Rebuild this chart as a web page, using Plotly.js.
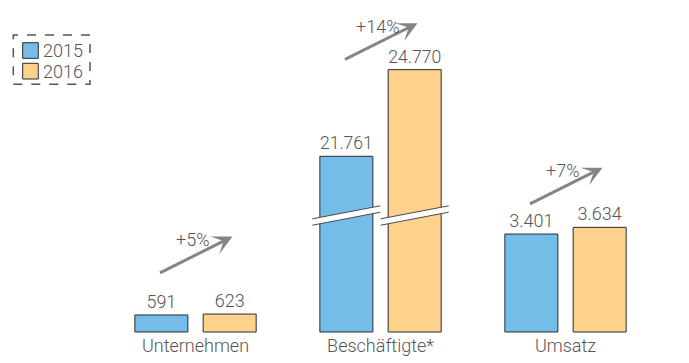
<!DOCTYPE html>
<html>
<head>
<meta charset="utf-8">
<script src="https://cdn.plot.ly/plotly-3.0.1.min.js"></script>
<style>
  html, body { margin: 0; padding: 0; background: #fff; }
  #chart { width: 689px; height: 363px; }
</style>
</head>
<body>
<div id="chart"></div>
<script>
// Kennzahlen 2015 / 2016
const categories = ['Unternehmen', 'Beschäftigte*', 'Umsatz'];
const years = ['2015', '2016'];
const values2015 = [591, 21761, 3401];
const values2016 = [623, 24770, 3634];

// The "Beschäftigte" bars share the same scale but their axis is cut here
const AXIS_BREAK = 15660;
const BROKEN = 1; // index of the category drawn on the broken axis

const COLORS = ['#74bde9', '#fed28d'];
const TEXT = '#555555';
const ARROW = '#858585';
const FONT = 'Roboto, "Liberation Sans", Arial, sans-serif';

// bar geometry in category units
const BAR_W = 0.2865;
const OFFSETS = [-0.3278, 0.0414];

const xs = categories.map((_, i) => i);
const normalIdx = xs.filter(i => i !== BROKEN);
const series = [values2015, values2016];

function barTrace(k, onBroken) {
  const values = series[k];
  const idx = onBroken ? [BROKEN] : normalIdx;
  const vals = idx.map(i => values[i]);
  const t = {
    type: 'bar',
    name: years[k],
    showlegend: false,
    x: idx,
    width: BAR_W,
    offset: OFFSETS[k],
    customdata: vals,
    texttemplate: '%{customdata:,.0f}',
    textposition: 'outside',
    cliponaxis: false,
    textfont: { family: FONT, size: 18, weight: 300, color: TEXT },
    marker: { color: COLORS[k], line: { color: '#2b2b2b', width: 1 } },
    hoverinfo: 'skip'
  };
  if (onBroken) {
    t.yaxis = 'y2';
    t.base = AXIS_BREAK;
    t.y = vals.map(v => v - AXIS_BREAK);
  } else {
    t.y = vals;
  }
  return t;
}

const traces = [
  barTrace(0, false), barTrace(1, false),
  barTrace(0, true), barTrace(1, true)
];

// Growth arrows with rounded percentage change
const arrowTips = [
  { x: 0.2, y: 0.309 },
  { x: 1.2, y: 0.993 },
  { x: 2.2, y: 0.530 }
];
const annotations = [];
categories.forEach((c, i) => {
  const pct = Math.round((values2016[i] / values2015[i] - 1) * 100);
  const tip = arrowTips[i];
  annotations.push({
    x: tip.x, y: tip.y, xref: 'x', yref: 'paper',
    ax: -74, ay: 37, text: '',
    showarrow: true, arrowhead: 3, arrowsize: 1.1, arrowwidth: 3,
    arrowcolor: ARROW, standoff: 0
  });
  annotations.push({
    x: tip.x, y: tip.y, xref: 'x', yref: 'paper',
    xanchor: 'center', yanchor: 'middle',
    xshift: -40, yshift: -3, showarrow: false,
    text: '+' + pct + '%',
    font: { family: FONT, size: 18, weight: 300, color: TEXT }
  });
});

// Axis-break marks across the Beschäftigte bars
const halfW = 0.184;
const breakY = 4045, breakH = 111, breakRise = 226;
const shapes = [];
OFFSETS.forEach(off => {
  const xc = BROKEN + off + BAR_W / 2;
  const xl = xc - halfW, xr = xc + halfW;
  const yl = breakY - breakRise, yr = breakY + breakRise;
  shapes.push({
    type: 'path', xref: 'x', yref: 'y',
    path: `M ${xl},${yl - breakH} L ${xr},${yr - breakH} L ${xr},${yr + breakH} L ${xl},${yl + breakH} Z`,
    fillcolor: '#ffffff', line: { width: 0 }
  });
  [-breakH, breakH].forEach(d => {
    shapes.push({
      type: 'line', xref: 'x', yref: 'y',
      x0: xl, y0: yl + d, x1: xr, y1: yr + d,
      line: { color: '#4a4a4a', width: 1 }
    });
  });
});

// Legend: swatches, year labels and a dashed frame
const legendRows = [
  { y0: 0.8804, y1: 0.9304, ty: 0.9054 },
  { y0: 0.8141, y1: 0.8644, ty: 0.8397 }
];
years.forEach((yr, k) => {
  const row = legendRows[k];
  shapes.push({
    type: 'rect', xref: 'paper', yref: 'paper',
    x0: -0.1447, x1: -0.1166, y0: row.y0, y1: row.y1,
    fillcolor: COLORS[k], line: { color: '#2b2b2b', width: 1 }
  });
  annotations.push({
    x: -0.1125, y: row.ty, xref: 'paper', yref: 'paper',
    xanchor: 'left', yanchor: 'middle', showarrow: false,
    text: yr, font: { family: FONT, size: 18, weight: 300, color: TEXT }
  });
});
shapes.push({
  type: 'rect', xref: 'paper', yref: 'paper',
  x0: -0.1616, x1: -0.0234, y0: 0.7971, y1: 0.9551,
  line: { color: '#555555', width: 1.5, dash: 'dash' }
});

const layout = {
  width: 689,
  height: 363,
  margin: { l: 103, r: 31, t: 21, b: 30 },
  paper_bgcolor: '#ffffff',
  plot_bgcolor: '#ffffff',
  separators: ',.',
  barmode: 'group',
  showlegend: false,
  xaxis: {
    range: [-0.5, 2.5],
    tickvals: xs,
    ticktext: categories,
    showgrid: false, zeroline: false, showline: false, ticks: '',
    tickfont: { family: FONT, size: 18, weight: 300, color: TEXT }
  },
  yaxis: {
    range: [-35, 10800],
    visible: false, showgrid: false, zeroline: false
  },
  yaxis2: {
    range: [AXIS_BREAK - 35, AXIS_BREAK + 10800],
    overlaying: 'y', visible: false, showgrid: false, zeroline: false
  },
  annotations: annotations,
  shapes: shapes
};

Plotly.newPlot('chart', traces, layout, { displayModeBar: false, staticPlot: true });
</script>
</body>
</html>
